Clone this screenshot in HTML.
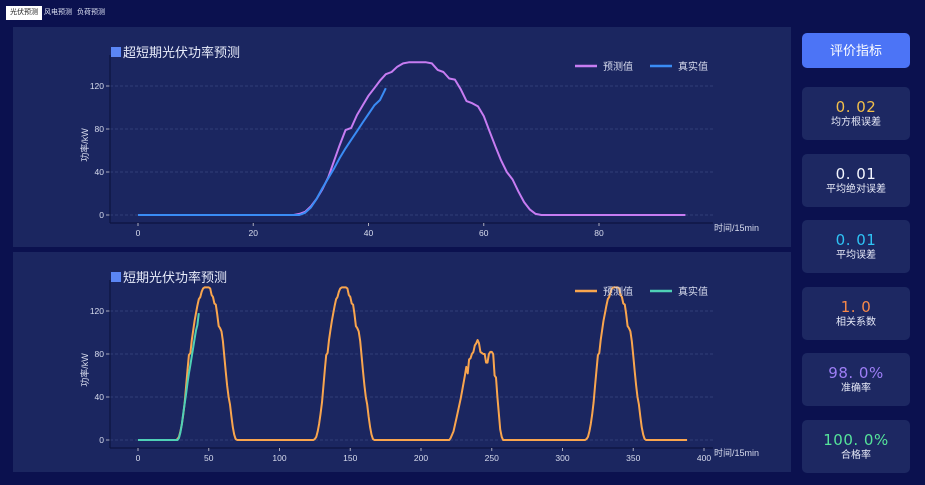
<!DOCTYPE html>
<html><head><meta charset="utf-8">
<style>
*{margin:0;padding:0;box-sizing:border-box}
body{width:925px;height:485px;background:#0b114f;font-family:"Liberation Sans","Noto Sans CJK SC",sans-serif;position:relative;overflow:hidden}
.tab{position:absolute;top:6px;height:14px;font-size:7px;line-height:14px;color:#dfe3f5;padding:0 4px}
.panel{position:absolute;left:13px;width:778px;height:220px;background:#1b2660}
.btn{position:absolute;left:802px;top:33px;width:108px;height:35px;background:#4c74f6;border-radius:5px;color:#fff;font-size:13px;text-align:center;line-height:35px}
.card{position:absolute;left:802px;width:108px;height:53px;background:#1d2862;border-radius:5px;text-align:center}
.card .v{font-size:15px;margin-top:11px;letter-spacing:0.5px;line-height:18px;font-family:"DejaVu Sans","Liberation Sans",sans-serif}
.card .l{font-size:10px;color:#e6e9f7;line-height:13px}
svg{position:absolute;left:0;top:0}
</style></head><body>
<div class="tab" style="left:6px;background:#fff;color:#222;">光伏预测</div>
<div class="tab" style="left:40px">风电预测</div>
<div class="tab" style="left:73px">负荷预测</div>
<div class="panel" style="top:27px"></div>
<div class="panel" style="top:252px"></div>
<div class="btn">评价指标</div>
<div class="card" style="top:87px"><div class="v" style="color:#f2bf4a">0. 02</div><div class="l">均方根误差</div></div>
<div class="card" style="top:154px"><div class="v" style="color:#f4f6ff">0. 01</div><div class="l">平均绝对误差</div></div>
<div class="card" style="top:220px"><div class="v" style="color:#2ec3f5">0. 01</div><div class="l">平均误差</div></div>
<div class="card" style="top:287px"><div class="v" style="color:#f7894a">1. 0</div><div class="l">相关系数</div></div>
<div class="card" style="top:353px"><div class="v" style="color:#9d7ef6">98. 0%</div><div class="l">准确率</div></div>
<div class="card" style="top:420px"><div class="v" style="color:#55e39a">100. 0%</div><div class="l">合格率</div></div>
<svg id="s" width="925" height="485" xmlns="http://www.w3.org/2000/svg" font-family="Liberation Sans, Noto Sans CJK SC, sans-serif"></svg>
<script>
var s=document.getElementById('s');var h='';
var P=[[0,0],[27,0],[28,1],[29,3],[30,8],[31,15],[32,24],[33,35],[34,50],[35,65],[36,79],[37,81],[38,93],[39,102],[40,111],[41,118],[42,125],[43,131],[44,133],[45,138],[46,141],[47,142],[50,142],[51,141],[52,135],[53,133],[54,127],[55,126],[56,117],[57,106],[58,104],[59,101],[60,92],[61,78],[62,64],[63,51],[64,40],[65,33],[66,22],[67,12],[68,5],[69,1],[70,0]];
var A=[[0,0],[28,0],[29,2],[30,7],[31,15],[32,25],[33,34],[34,43],[35,53],[36,62],[37,70],[38,78],[39,86],[40,94],[41,102],[42,107],[43,118]];
function chart(y0,x0,sx,title,xt,pred,act,cp,ca){
 h+='<rect x="111" y="'+(y0-168)+'" width="10" height="10" fill="#5b86f5"/>';
 h+='<text x="123" y="'+(y0-158)+'" font-size="13" fill="#e8ecfa">'+title+'</text>';
 [0,40,80,120].forEach(function(v){var y=y0-v*1.075;
  h+='<line x1="110" x2="713" y1="'+y+'" y2="'+y+'" stroke="#3a4680" stroke-dasharray="3,2" stroke-width="0.8"/>';
  h+='<line x1="106" x2="110" y1="'+y+'" y2="'+y+'" stroke="#aab" />';
  h+='<text x="104" y="'+(y+3)+'" font-size="8.5" fill="#d8dcee" text-anchor="end">'+v+'</text>';});
 h+='<line x1="110" x2="110" y1="'+(y0-160)+'" y2="'+(y0+8)+'" stroke="#0d1440" stroke-width="1.2"/>';
 h+='<line x1="110" x2="713" y1="'+(y0+8)+'" y2="'+(y0+8)+'" stroke="#0d1440" stroke-width="1.2"/>';
 xt.forEach(function(v){var x=x0+v*sx;
  h+='<line x1="'+x+'" x2="'+x+'" y1="'+(y0+8)+'" y2="'+(y0+11)+'" stroke="#aab"/>';
  h+='<text x="'+x+'" y="'+(y0+21)+'" font-size="8.5" fill="#d8dcee" text-anchor="middle">'+v+'</text>';});
 h+='<text x="714" y="'+(y0+16)+'" font-size="9" fill="#d8dcee">时间/15min</text>';
 h+='<text transform="translate(88,'+(y0-70)+') rotate(-90)" font-size="9" fill="#d8dcee" text-anchor="middle">功率/kW</text>';
 function path(d,c){return '<polyline fill="none" stroke="'+c+'" stroke-width="2" stroke-linejoin="round" points="'+d.map(function(p){return (x0+p[0]*sx).toFixed(1)+','+(y0-p[1]*1.075).toFixed(1)}).join(' ')+'"/>';}
 h+=path(pred,cp)+path(act,ca);
 var ly=y0-149;
 h+='<line x1="575" x2="597" y1="'+ly+'" y2="'+ly+'" stroke="'+cp+'" stroke-width="2.5"/><text x="603" y="'+(ly+4)+'" font-size="10" fill="#d8dcee">预测值</text>';
 h+='<line x1="650" x2="672" y1="'+ly+'" y2="'+ly+'" stroke="'+ca+'" stroke-width="2.5"/><text x="678" y="'+(ly+4)+'" font-size="10" fill="#d8dcee">真实值</text>';
}
chart(215,138,5.7625,'超短期光伏功率预测',[0,20,40,60,80],P.concat([[95,0]]),A,'#c77cf2','#3a8cf5');
var P2=[];
function add(arr,off){arr.forEach(function(p){P2.push([p[0]+off,p[1]])});}
add(P,0);add(P.slice(1),97);
var D3=[[220,0],[221,2],[223,8],[225,20],[227,32],[228,38],[229,45],[231,60],[232,68],[233,62],[234,75],[235,76],[236,80],[237,82],[238,88],[239,90],[240,93],[241,90],[242,82],[243,81],[244,80],[245,80],[246,72],[247,72],[248,80],[249,82],[250,82],[251,80],[252,60],[253,58],[254,40],[255,25],[256,10],[257,3],[258,0]];
P2=P2.concat(D3);add(P.slice(1),289);P2.push([388,0]);
chart(440,138,1.415,'短期光伏功率预测',[0,50,100,150,200,250,300,350,400],P2,A,'#f9a54e','#4fd0b6');
s.innerHTML=h;
</script>
</body></html>
